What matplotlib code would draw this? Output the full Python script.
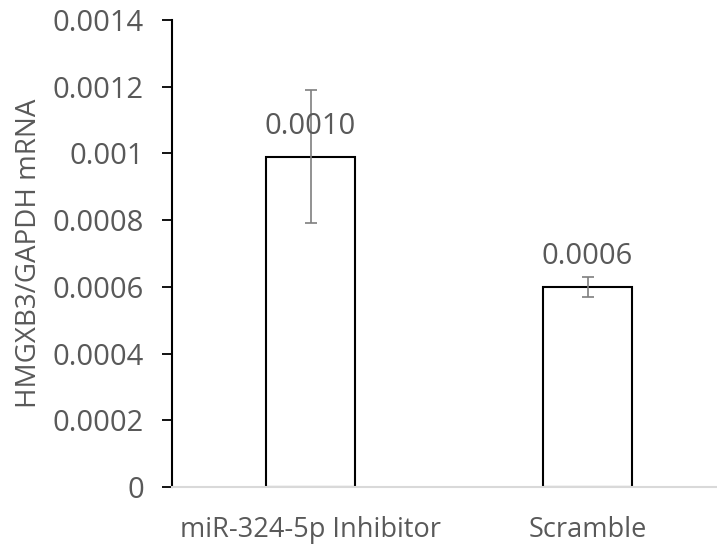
import numpy as np
import matplotlib
matplotlib.use("Agg")
import matplotlib.pyplot as plt

# ----------------------------- Data -----------------------------
categories = ["miR-324-5p Inhibitor", "Scramble"]
values = [0.00099, 0.00060]
errors = [0.00020, 0.00003]
value_labels = ["0.0010", "0.0006"]
yticks = [0, 0.0002, 0.0004, 0.0006, 0.0008, 0.001, 0.0012, 0.0014]
ytick_labels = ["0", "0.0002", "0.0004", "0.0006", "0.0008", "0.001", "0.0012", "0.0014"]
ylabel = "HMGXB3/GAPDH mRNA"

# ----------------------------- Style -----------------------------
TEXT = "#595959"
plt.rcParams["font.family"] = ["Open Sans", "DejaVu Sans"]

W, H = 717, 550
fig = plt.figure(figsize=(W / 100, H / 100), dpi=100)
ax = fig.add_axes([172 / W, 63 / H, 554 / W, 467 / H])

x = np.arange(len(categories))
ax.bar(x, values, width=0.318, color="white", edgecolor="black", linewidth=1.5, zorder=2)
ax.errorbar(x, values, yerr=errors, fmt="none", ecolor="#7f7f7f",
            elinewidth=1.2, capsize=4.5, capthick=1.2, zorder=3)

# data labels sit a fixed distance above the bar top (not the error bar)
for xi, v, lab in zip(x, values, value_labels):
    ax.annotate(lab, (xi, v), xytext=(0, 22), textcoords="offset points",
                ha="center", va="center", fontsize=21, color=TEXT, zorder=4)

ax.set_xlim(-0.5, 1.5)
ax.set_ylim(0, 0.0014)
ax.set_yticks(yticks)
ax.set_yticklabels(ytick_labels)
ax.set_xticks(x)
ax.set_xticklabels(categories)

ax.tick_params(axis="y", length=7.2, width=1.3, color="black", pad=13,
               labelsize=21, labelcolor=TEXT)
ax.tick_params(axis="x", length=0, pad=21, labelsize=19.5, labelcolor=TEXT)

for side in ["top", "right"]:
    ax.spines[side].set_visible(False)
ax.spines["left"].set_color("black")
ax.spines["left"].set_linewidth(1.5)
ax.spines["left"].set_zorder(5)
ax.spines["bottom"].set_color("#d9d9d9")
ax.spines["bottom"].set_linewidth(1.5)
ax.spines["bottom"].set_zorder(5)

ax.set_ylabel(ylabel, fontsize=20, color=TEXT, labelpad=7)

fig.savefig("out.png", dpi=100)
